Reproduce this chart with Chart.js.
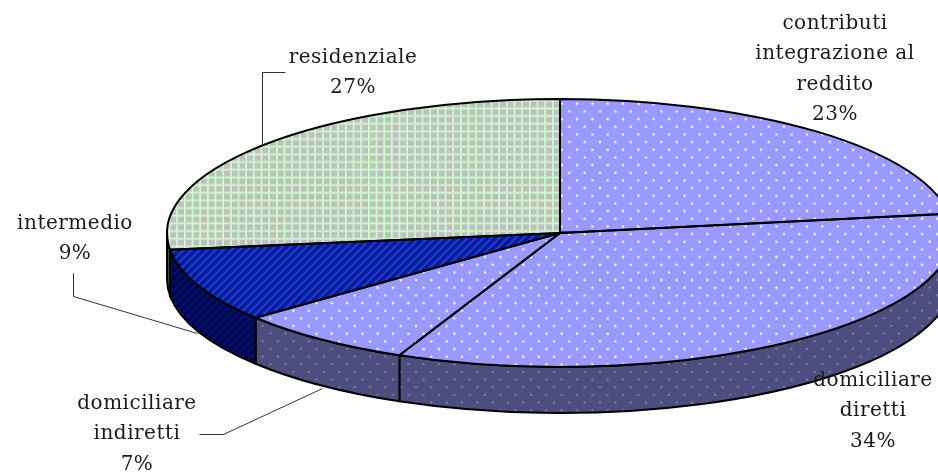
<!DOCTYPE html>
<html>
<head>
<meta charset="utf-8">
<style>
  html, body { margin: 0; padding: 0; background: #fff; }
  canvas { display: block; }
</style>
<script src="https://cdn.jsdelivr.net/npm/chart.js@4/dist/chart.umd.js"></script>
</head>
<body>
<canvas id="myChart" width="938" height="473"></canvas>
<script>
const categories = ['contributi integrazione al reddito', 'domiciliare diretti', 'domiciliare indiretti', 'intermedio', 'residenziale'];
// read from the slice edges, the labels show them rounded
const shares = [22.7, 34, 7.4, 8.9, 27];
const labelLines = [
  ['contributi', 'integrazione al', 'reddito'],
  ['domiciliare', 'diretti'],
  ['domiciliare', 'indiretti'],
  ['intermedio'],
  ['residenziale'],
];

const TILT = 134 / 393; // pie is squashed to this ratio
const DEPTH = 46;
const FONT = '20px "DejaVu Serif"';
const LINE_H = 30.4;

// tile for the dotted slices
function dots(bg, dot) {
  const c = document.createElement('canvas');
  c.width = c.height = 46;
  const g = c.getContext('2d');
  g.fillStyle = bg;
  g.fillRect(0, 0, 46, 46);
  g.fillStyle = dot;
  for (let r = 0; r < 6; r++) {
    for (let i = 0; i < 3; i++) {
      g.beginPath();
      g.arc((i + (r % 2) / 2) * 46 / 3 + 2, (r + 0.5) * 46 / 6, 1.2, 0, Math.PI * 2);
      g.fill();
    }
  }
  return c;
}

// tile for the residenziale grid
function grid(bg, line) {
  const c = document.createElement('canvas');
  c.width = c.height = 23;
  const g = c.getContext('2d');
  g.fillStyle = bg;
  g.fillRect(0, 0, 23, 23);
  g.fillStyle = line;
  for (let i = 0; i < 3; i++) {
    g.fillRect(i * 23 / 3, 0, 1.7, 23);
    g.fillRect(0, i * 23 / 3, 23, 1.7);
  }
  return c;
}

// tile for the intermedio stripes
function stripes(bg, line) {
  const c = document.createElement('canvas');
  c.width = c.height = 8;
  const g = c.getContext('2d');
  g.fillStyle = bg;
  g.fillRect(0, 0, 8, 8);
  g.strokeStyle = line;
  g.lineWidth = 2;
  [[-2, 2, 2, -2], [0, 8, 8, 0], [6, 10, 10, 6]].forEach(([x1, y1, x2, y2]) => {
    g.beginPath();
    g.moveTo(x1, y1);
    g.lineTo(x2, y2);
    g.stroke();
  });
  return c;
}

const ctx = document.getElementById('myChart').getContext('2d');

function makePattern(tile, squashed) {
  const p = ctx.createPattern(tile, 'repeat');
  // top face is painted under ctx.scale, so undo it for the tile
  if (squashed) p.setTransform(new DOMMatrix().scale(1, 1 / TILT));
  return p;
}

const topDots = makePattern(dots('#9999ff', '#ffffff'), true);
const topColors = [
  topDots,
  topDots,
  topDots,
  makePattern(stripes('#08189c', '#1f43cc'), true),
  makePattern(grid('#c0c0c0', '#ccffcc'), true),
];
const sideDots = makePattern(dots('#4d4d80', '#7c7c90'), false);
const sideColors = [
  sideDots,
  sideDots,
  sideDots,
  makePattern(stripes('#00064e', '#001270'), false),
  makePattern(grid('#404040', '#446044'), false),
];

const pie3d = {
  id: 'pie3d',
  beforeDatasetsDraw(chart) {
    const c = chart.ctx;
    const arcs = chart.getDatasetMeta(0).data;
    const { x, y, outerRadius } = arcs[0];
    const ry = outerRadius * TILT;

    // side wall, only the front half shows
    arcs.forEach((arc, i) => {
      const from = Math.max(arc.startAngle, 0);
      const to = Math.min(arc.endAngle, Math.PI);
      if (from >= to) return;
      c.beginPath();
      c.ellipse(x, y, outerRadius, ry, 0, from, to);
      c.ellipse(x, y + DEPTH, outerRadius, ry, 0, to, from, true);
      c.closePath();
      c.fillStyle = sideColors[i];
      c.fill();
      c.strokeStyle = '#000';
      c.lineWidth = 2;
      c.stroke();
    });

    c.save();
    c.translate(0, y);
    c.scale(1, TILT);
    c.translate(0, -y);
  },
  afterDatasetsDraw(chart) {
    const c = chart.ctx;
    c.restore();
    const arcs = chart.getDatasetMeta(0).data;
    const { x, y, outerRadius } = arcs[0];
    const ry = outerRadius * TILT;

    arcs.forEach((arc) => {
      c.beginPath();
      c.moveTo(x, y);
      c.ellipse(x, y, outerRadius, ry, 0, arc.startAngle, arc.endAngle);
      c.closePath();
      c.strokeStyle = '#000';
      c.lineWidth = 2;
      c.stroke();
    });

    // leader lines
    c.strokeStyle = '#333';
    c.lineWidth = 1;
    [
      [[285, 72], [262, 72], [262, 146]],
      [[73, 273], [73, 296], [197, 333]],
      [[199, 434], [223, 434], [322, 388]],
    ].forEach((pts) => {
      c.beginPath();
      pts.forEach(([px, py], i) => (i ? c.lineTo(px + 0.5, py + 0.5) : c.moveTo(px + 0.5, py + 0.5)));
      c.stroke();
    });

    // slice labels
    const anchors = [[835, 29], [873, 386], [137, 409], [75, 229], [353, 63]];
    c.font = FONT;
    c.letterSpacing = '0.5px';
    c.fillStyle = '#1a1a1a';
    c.textAlign = 'center';
    c.textBaseline = 'alphabetic';
    labelLines.forEach((lines, i) => {
      const [ax, ay] = anchors[i];
      lines.concat(Math.round(shares[i]) + '%').forEach((t, n) => {
        c.fillText(t, ax, ay + n * LINE_H);
      });
    });
  },
};

const data = {
  labels: categories,
  datasets: [
    {
      data: shares,
      backgroundColor: topColors,
      borderWidth: 0,
    },
  ],
};

const config = {
  type: 'pie',
  data: data,
  options: {
    responsive: false,
    animation: false,
    radius: 393,
    clip: false,
    layout: { padding: { left: 182, bottom: 7 } },
    plugins: { legend: { display: false }, tooltip: { enabled: false } },
  },
  plugins: [pie3d],
};

const myChart = new Chart(ctx, config);
</script>
</body>
</html>
